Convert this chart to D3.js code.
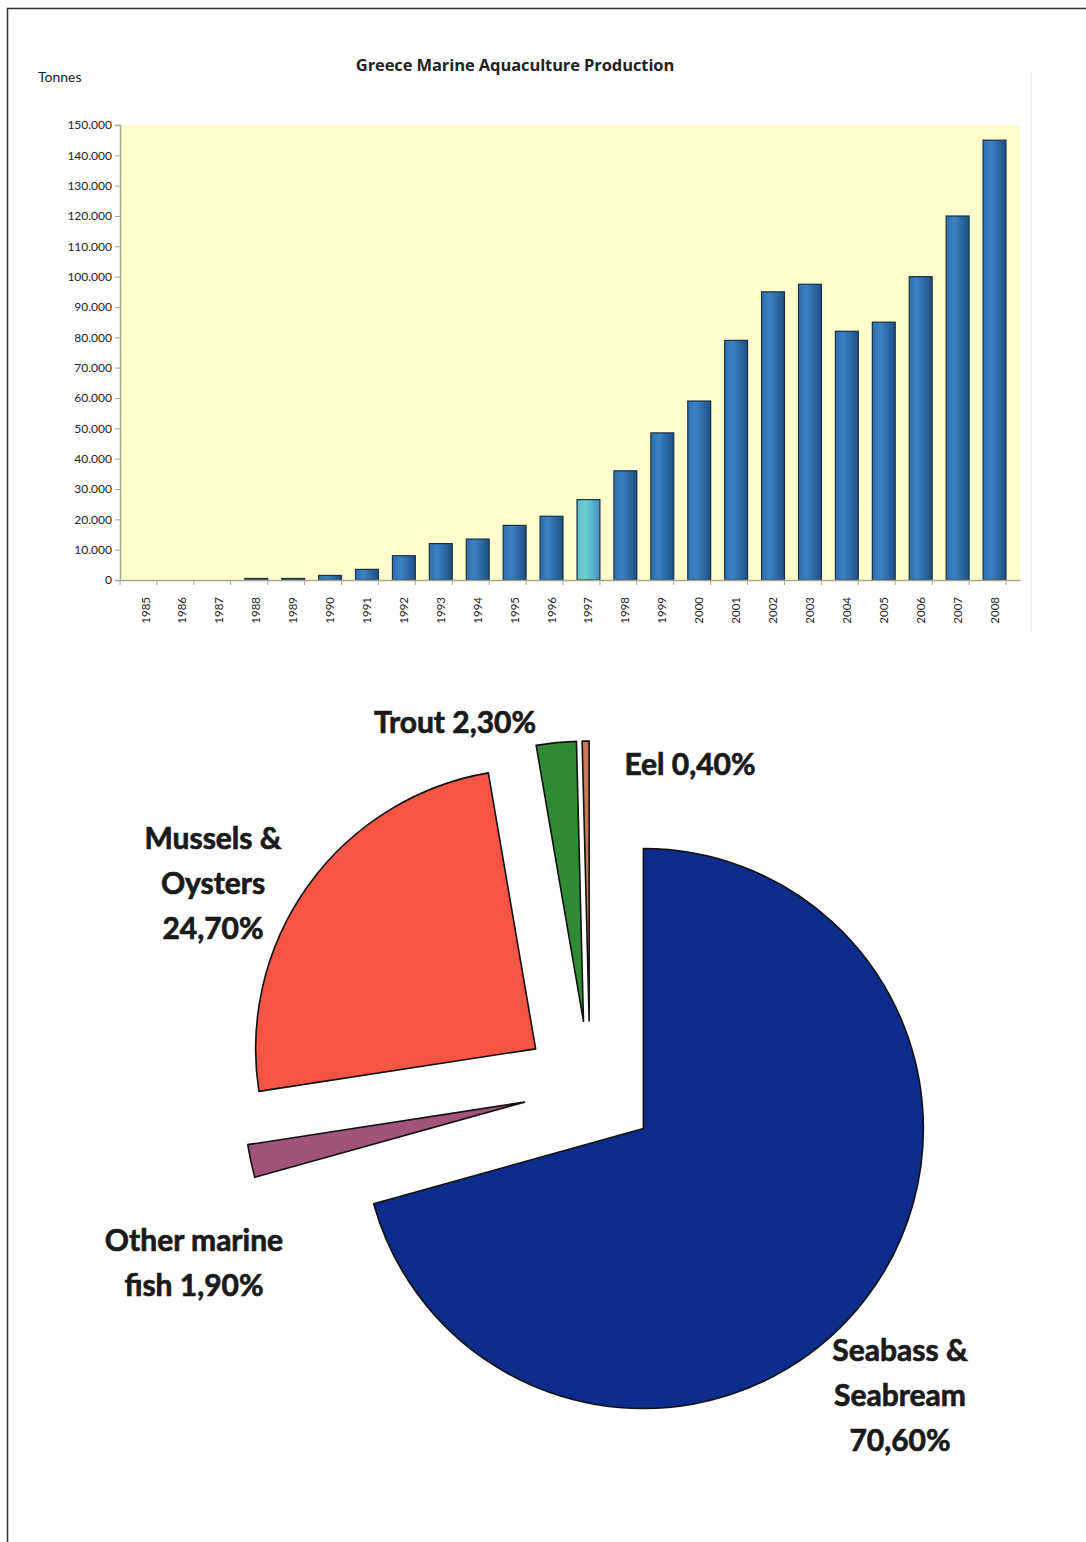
<!DOCTYPE html>
<html>
<head>
<meta charset="utf-8">
<script src="https://cdn.jsdelivr.net/npm/d3@7.9.0/dist/d3.min.js"></script>
<style>
  body { margin: 0; background: #fff; }
  svg { display: block; font-family: Lato, "Open Sans", sans-serif; }
</style>
</head>
<body>
<svg id="chart" width="1086" height="1542"></svg>
<script>
// bar chart data
const years = ['1985','1986','1987','1988','1989','1990','1991','1992','1993','1994','1995','1996',
  '1997','1998','1999','2000','2001','2002','2003','2004','2005','2006','2007','2008'];
const tonnes = [0, 0, 0, 500, 500, 1500, 3500, 8000, 12000, 13500, 18000, 21000,
  26500, 36000, 48500, 59000, 79000, 95000, 97500, 82000, 85000, 100000, 120000, 145000];
const yTicks = [0, 10000, 20000, 30000, 40000, 50000, 60000, 70000, 80000, 90000, 100000,
  110000, 120000, 130000, 140000, 150000];
const highlightYear = '1997';

// pie data
const species = ['Seabass & Seabream', 'Other marine fish', 'Mussels & Oysters', 'Trout', 'Eel'];
const shares = [70.6, 1.9, 24.7, 2.3, 0.4];
const shareLabels = [['Seabass &', 'Seabream', '70,60%'], ['Other marine', 'fish 1,90%'],
  ['Mussels &', 'Oysters', '24,70%'], ['Trout 2,30%'], ['Eel 0,40%']];
const sliceColors = ['#0b2c8a', '#a2537a', '#f65444', '#2e8b34', '#c47858'];

const svg = d3.select('#chart');
const defs = svg.append('defs');

// page frame (top + left edges)
svg.append('path')
  .attr('d', 'M7.5,1542 V8.5 H1086')
  .attr('fill', 'none').attr('stroke', '#333').attr('stroke-width', 1.5);

// ---------- bar chart ----------
const plot = { left: 120, right: 1020, top: 125, bottom: 580 };

const x = d3.scaleBand().domain(years).range([plot.left, plot.right]).padding(0.38);
const y = d3.scaleLinear().domain([0, 150000]).range([plot.bottom, plot.top]);

function barGradient(id, dark, mid, light) {
  const g = defs.append('linearGradient').attr('id', id)
    .attr('x1', '0%').attr('x2', '100%').attr('y1', '0%').attr('y2', '0%');
  g.append('stop').attr('offset', '0%').attr('stop-color', mid);
  g.append('stop').attr('offset', '35%').attr('stop-color', light);
  g.append('stop').attr('offset', '100%').attr('stop-color', dark);
}
barGradient('barBlue', '#1d4f85', '#2f6fae', '#3b82c4');
barGradient('barCyan', '#3f93c0', '#5cbcc8', '#6fd0d0');

svg.append('rect')
  .attr('x', plot.left).attr('y', plot.top)
  .attr('width', plot.right - plot.left).attr('height', plot.bottom - plot.top)
  .attr('fill', '#fffdcb');

svg.append('line')
  .attr('x1', 1031).attr('x2', 1031).attr('y1', 72).attr('y2', 632)
  .attr('stroke', '#f0f0f0').attr('stroke-width', 1.5);

svg.append('g').selectAll('rect')
  .data(years.map((yr, i) => ({ yr, v: tonnes[i] })).filter(d => d.v > 0))
  .join('rect')
  .attr('x', d => x(d.yr))
  .attr('y', d => y(d.v))
  .attr('width', x.bandwidth())
  .attr('height', d => y(0) - y(d.v))
  .attr('fill', d => d.yr === highlightYear ? 'url(#barCyan)' : 'url(#barBlue)')
  .attr('stroke', '#1b2f45')
  .attr('stroke-width', 1.2);

const yAxis = svg.append('g')
  .attr('transform', `translate(${plot.left},0)`)
  .call(d3.axisLeft(y).tickValues(yTicks).tickSize(5)
    .tickFormat(d => d3.format(',')(d).replace(/,/g, '.')));

const xAxis = svg.append('g')
  .attr('transform', `translate(0,${plot.bottom})`)
  .call(d3.axisBottom(x).tickSize(0));

// ticks between categories, like the spreadsheet chart
const step = x.step();
svg.append('g').selectAll('line')
  .data(d3.range(years.length + 1))
  .join('line')
  .attr('x1', i => plot.left + i * step).attr('x2', i => plot.left + i * step)
  .attr('y1', plot.bottom).attr('y2', plot.bottom + 5)
  .attr('stroke', '#a8a890');

[yAxis, xAxis].forEach(a => {
  a.select('.domain').attr('stroke', '#a8a890').attr('stroke-width', 1.5);
  a.selectAll('.tick line').attr('stroke', '#a8a890');
  a.selectAll('text').attr('fill', '#222').attr('font-size', 12)
    .attr('font-family', 'Lato, "Open Sans", sans-serif');
});
yAxis.selectAll('text').attr('x', -8);

xAxis.selectAll('text')
  .attr('transform', 'rotate(-90)')
  .attr('text-anchor', 'end')
  .attr('x', -17).attr('y', 0).attr('dy', '0.35em')
  .attr('font-size', 11.5);

svg.append('text')
  .attr('x', 515).attr('y', 71)
  .attr('text-anchor', 'middle')
  .attr('font-family', '"Open Sans", Lato, sans-serif')
  .attr('font-size', 16.5).attr('font-weight', 'bold').attr('fill', '#222')
  .attr('letter-spacing', -0.1)
  .text('Greece Marine Aquaculture Production');

svg.append('text')
  .attr('x', 38).attr('y', 82)
  .attr('font-size', 14).attr('fill', '#222')
  .text('Tonnes');

// ---------- exploded pie ----------
const cx = 590, cy = 1088, radius = 280, explode = 67;

const pie = d3.pie().sort(null).value(d => d)(shares);
const arc = d3.arc().innerRadius(0).outerRadius(radius);

const pieG = svg.append('g').attr('transform', `translate(${cx},${cy})`);
pieG.selectAll('path')
  .data(pie)
  .join('path')
  .attr('transform', d => {
    const a = (d.startAngle + d.endAngle) / 2;
    return `translate(${explode * Math.sin(a)},${-explode * Math.cos(a)})`;
  })
  .attr('d', arc)
  .attr('fill', (d, i) => sliceColors[i])
  .attr('stroke', '#111')
  .attr('stroke-width', 1.6)
  .attr('stroke-linejoin', 'round');

// label anchors (centre of text block)
const labelPos = [[900, 1350], [194, 1240], [213, 838], [455, 722], [690, 764]];
const lineGap = 45;

shareLabels.forEach((lines, i) => {
  const [lx, ly] = labelPos[i];
  const t = svg.append('text')
    .attr('text-anchor', 'middle')
    .attr('font-size', 30).attr('font-weight', 'bold').attr('fill', '#1a1a1a')
    .attr('stroke', '#1a1a1a').attr('stroke-width', 0.7);
  lines.forEach((ln, k) => {
    t.append('tspan').attr('x', lx).attr('y', ly + k * lineGap).attr('dy', '0.35em').text(ln);
  });
});
</script>
</body>
</html>
